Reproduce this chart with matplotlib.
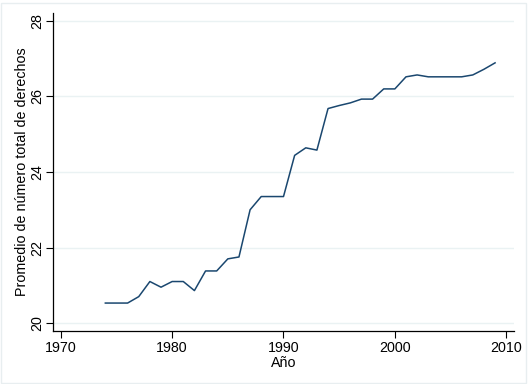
import numpy as np
import matplotlib.pyplot as plt
from matplotlib.patches import Rectangle

plt.rcParams['font.family'] = ['Liberation Sans', 'DejaVu Sans']

years = list(range(1974, 2010))
derechos = [20.53, 20.53, 20.53, 20.70, 21.10, 20.95, 21.10, 21.10, 20.86, 21.38,
            21.38, 21.70, 21.75, 23.00, 23.35, 23.35, 23.35, 24.44, 24.64, 24.58,
            25.68, 25.76, 25.83, 25.93, 25.93, 26.20, 26.20, 26.52, 26.57, 26.52,
            26.52, 26.52, 26.52, 26.57, 26.72, 26.89]
xticks = [1970, 1980, 1990, 2000, 2010]
yticks = [20, 22, 24, 26, 28]

fig = plt.figure(figsize=(5.28, 3.84), dpi=100)
ax = fig.add_axes([53/528, 1 - 331/384, (514-53)/528, (331-13)/384])

ax.plot(years, derechos, color='#1a476f', lw=1.1)

ax.set_xlim(1969.3, 2010.7)
ax.set_ylim(19.79, 28.21)
ax.set_xticks(xticks)
ax.set_yticks(yticks)
ax.set_yticklabels([str(t) for t in yticks], rotation=90, va='center')
ax.grid(axis='y', color='#eaf2f3', lw=1)
ax.set_axisbelow(True)
for s in ['top', 'right']:
    ax.spines[s].set_visible(False)
for s in ['left', 'bottom']:
    ax.spines[s].set_color('black')
    ax.spines[s].set_linewidth(0.9)
ax.tick_params(direction='out', length=5, width=0.8, labelsize=10.3, colors='black')
ax.tick_params(axis='x', pad=2.5)
ax.tick_params(axis='y', pad=1)
ax.set_xlabel('Año', fontsize=10.3, labelpad=0.5)
ax.set_ylabel('Promedio de número total de derechos', fontsize=10.3, labelpad=1)

fig.patches.append(Rectangle((0.002, 0.003), 0.995, 0.99, transform=fig.transFigure,
                             fill=False, edgecolor='#e8eef0', lw=1))

fig.savefig('out.png', dpi=100)
